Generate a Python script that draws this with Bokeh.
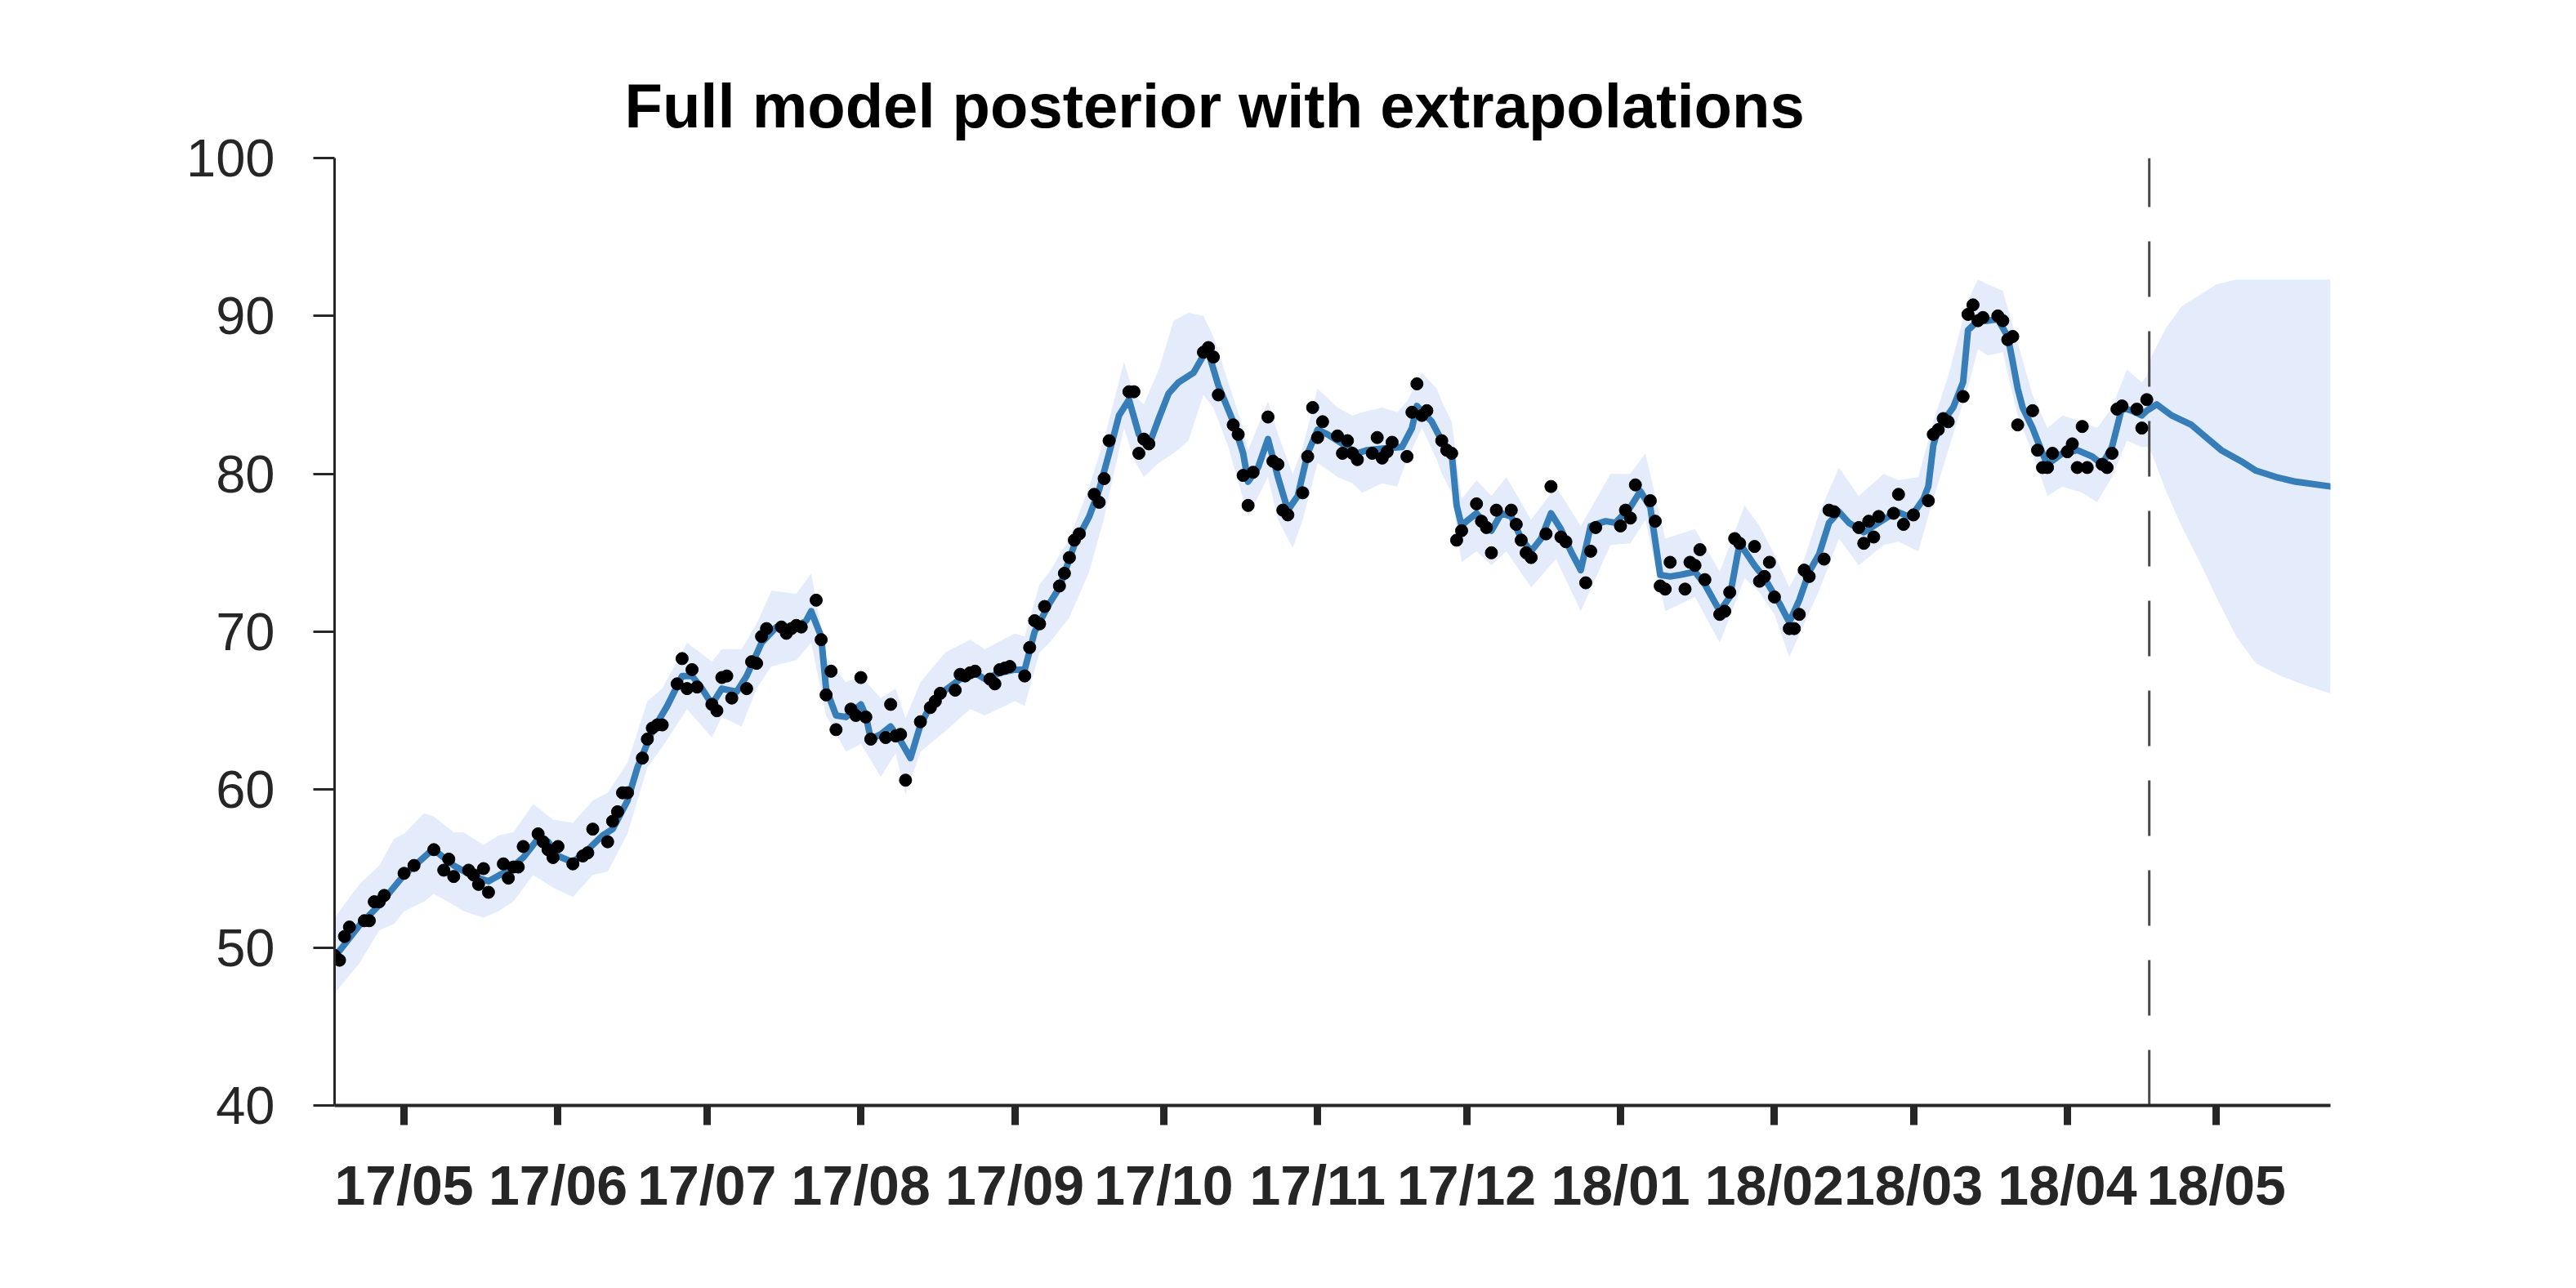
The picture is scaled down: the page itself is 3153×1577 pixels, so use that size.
import pandas as pd
from bokeh.plotting import figure
from bokeh.models import FixedTicker, Range1d, DatetimeTickFormatter
from bokeh.embed import file_html
from bokeh.resources import INLINE

# ---------------- data ----------------
title_text = "Full model posterior with extrapolations"

obs_dates = [
    "2017-04-17", "2017-04-18", "2017-04-19", "2017-04-20", "2017-04-23", "2017-04-24", "2017-04-25",
    "2017-04-26", "2017-04-27", "2017-05-01", "2017-05-03", "2017-05-07", "2017-05-09", "2017-05-10",
    "2017-05-11", "2017-05-14", "2017-05-15", "2017-05-16", "2017-05-17", "2017-05-18", "2017-05-21",
    "2017-05-22", "2017-05-23", "2017-05-24", "2017-05-25", "2017-05-28", "2017-05-29", "2017-05-30",
    "2017-05-31", "2017-06-01", "2017-06-04", "2017-06-06", "2017-06-07", "2017-06-08", "2017-06-11",
    "2017-06-12", "2017-06-13", "2017-06-14", "2017-06-15", "2017-06-18", "2017-06-19", "2017-06-20",
    "2017-06-21", "2017-06-22", "2017-06-25", "2017-06-26", "2017-06-27", "2017-06-28", "2017-06-29",
    "2017-07-02", "2017-07-03", "2017-07-04", "2017-07-05", "2017-07-06", "2017-07-09", "2017-07-10",
    "2017-07-11", "2017-07-12", "2017-07-13", "2017-07-16", "2017-07-17", "2017-07-18", "2017-07-19",
    "2017-07-20", "2017-07-23", "2017-07-24", "2017-07-25", "2017-07-26", "2017-07-27", "2017-07-30",
    "2017-07-31", "2017-08-01", "2017-08-02", "2017-08-03", "2017-08-06", "2017-08-07", "2017-08-08",
    "2017-08-09", "2017-08-10", "2017-08-13", "2017-08-15", "2017-08-16", "2017-08-17", "2017-08-20",
    "2017-08-21", "2017-08-22", "2017-08-23", "2017-08-24", "2017-08-27", "2017-08-28", "2017-08-29",
    "2017-08-30", "2017-08-31", "2017-09-03", "2017-09-04", "2017-09-05", "2017-09-06", "2017-09-07",
    "2017-09-10", "2017-09-11", "2017-09-12", "2017-09-13", "2017-09-14", "2017-09-17", "2017-09-18",
    "2017-09-19", "2017-09-20", "2017-09-24", "2017-09-25", "2017-09-26", "2017-09-27", "2017-09-28",
    "2017-10-09", "2017-10-10", "2017-10-11", "2017-10-12", "2017-10-15", "2017-10-16", "2017-10-17",
    "2017-10-18", "2017-10-19", "2017-10-22", "2017-10-23", "2017-10-24", "2017-10-25", "2017-10-26",
    "2017-10-29", "2017-10-30", "2017-10-31", "2017-11-01", "2017-11-02", "2017-11-05", "2017-11-06",
    "2017-11-07", "2017-11-08", "2017-11-09", "2017-11-12", "2017-11-13", "2017-11-14", "2017-11-15",
    "2017-11-16", "2017-11-19", "2017-11-20", "2017-11-21", "2017-11-22", "2017-11-23", "2017-11-26",
    "2017-11-27", "2017-11-28", "2017-11-29", "2017-11-30", "2017-12-03", "2017-12-04", "2017-12-05",
    "2017-12-06", "2017-12-07", "2017-12-10", "2017-12-11", "2017-12-12", "2017-12-13", "2017-12-14",
    "2017-12-17", "2017-12-18", "2017-12-20", "2017-12-21", "2017-12-25", "2017-12-26", "2017-12-27",
    "2018-01-01", "2018-01-02", "2018-01-03", "2018-01-04", "2018-01-07", "2018-01-08", "2018-01-09",
    "2018-01-10", "2018-01-11", "2018-01-14", "2018-01-15", "2018-01-16", "2018-01-17", "2018-01-18",
    "2018-01-21", "2018-01-22", "2018-01-23", "2018-01-24", "2018-01-25", "2018-01-28", "2018-01-29",
    "2018-01-30", "2018-01-31", "2018-02-01", "2018-02-04", "2018-02-05", "2018-02-06", "2018-02-07",
    "2018-02-08", "2018-02-11", "2018-02-12", "2018-02-13", "2018-02-18", "2018-02-19", "2018-02-20",
    "2018-02-21", "2018-02-22", "2018-02-25", "2018-02-26", "2018-02-27", "2018-03-01", "2018-03-04",
    "2018-03-05", "2018-03-06", "2018-03-07", "2018-03-08", "2018-03-11", "2018-03-12", "2018-03-13",
    "2018-03-14", "2018-03-15", "2018-03-18", "2018-03-19", "2018-03-20", "2018-03-21", "2018-03-22",
    "2018-03-25", "2018-03-26", "2018-03-27", "2018-03-28", "2018-03-29", "2018-04-01", "2018-04-02",
    "2018-04-03", "2018-04-04", "2018-04-05", "2018-04-08", "2018-04-09", "2018-04-10", "2018-04-11",
    "2018-04-12", "2018-04-15", "2018-04-16", "2018-04-17",
]
obs_values = [
    49.5, 49.2, 50.7, 51.3, 51.7, 51.7, 52.9,
    52.9, 53.3, 54.7, 55.2, 56.2, 54.9, 55.6,
    54.5, 54.9, 54.6, 54.0, 55.0, 53.5, 55.3,
    54.4, 55.1, 55.1, 56.4, 57.2, 56.7, 56.2,
    55.7, 56.4, 55.3, 55.8, 56.0, 57.5, 56.7,
    58.0, 58.6, 59.8, 59.8, 62.0, 63.2, 63.9,
    64.1, 64.1, 66.7, 68.3, 66.4, 67.6, 66.5,
    65.4, 65.0, 67.1, 67.2, 65.8, 66.4, 68.1,
    68.0, 69.7, 70.2, 70.3, 69.9, 70.2, 70.4,
    70.3, 72.0, 69.5, 66.0, 67.5, 63.8, 65.1,
    64.7, 67.1, 64.6, 63.2, 63.3, 65.4, 63.4,
    63.5, 60.6, 64.3, 65.2, 65.6, 66.1, 66.3,
    67.3, 67.2, 67.4, 67.5, 67.0, 66.7, 67.6,
    67.7, 67.8, 67.2, 69.0, 70.7, 70.5, 71.6,
    72.9, 73.7, 74.7, 75.8, 76.2, 78.7, 78.2,
    79.7, 82.1, 85.2, 85.2, 81.3, 82.2, 81.9,
    87.7, 88.0, 87.4, 85.0, 83.1, 82.5, 79.9,
    78.0, 80.1, 83.6, 80.8, 80.6, 77.7, 77.4,
    78.8, 81.1, 84.2, 82.3, 83.3, 82.4, 81.3,
    82.1, 81.3, 80.9, 81.3, 82.3, 81.0, 81.4,
    82.0, 81.1, 83.9, 85.7, 83.7, 84.0, 82.1,
    81.5, 81.3, 75.8, 76.4, 78.1, 77.0, 76.6,
    75.0, 77.7, 77.7, 76.8, 75.8, 75.0, 74.7,
    76.2, 79.2, 76.0, 75.7, 73.1, 75.1, 76.6,
    76.7, 77.7, 77.2, 79.3, 78.3, 77.0, 72.9,
    72.7, 74.4, 72.7, 74.4, 74.2, 75.2, 73.3,
    71.1, 71.3, 72.5, 75.9, 75.6, 75.4, 73.2,
    73.5, 74.4, 72.2, 70.2, 70.2, 71.1, 73.9,
    73.5, 74.6, 77.7, 77.6, 76.6, 75.6, 77.0,
    76.0, 77.3, 77.5, 78.7, 76.8, 77.4, 78.3,
    82.5, 82.8, 83.5, 83.3, 84.9, 90.1, 90.7,
    89.7, 89.9, 90.0, 89.7, 88.5, 88.7, 83.1,
    84.0, 81.5, 80.4, 80.4, 81.3, 81.4, 81.9,
    80.4, 83.0, 80.4, 80.6, 80.4, 81.3, 84.1,
    84.3, 84.1, 82.9, 84.7,
]

mean_dates = [
    "2017-04-17", "2017-04-22", "2017-04-26", "2017-05-01", "2017-05-06", "2017-05-07", "2017-05-11",
    "2017-05-15", "2017-05-18", "2017-05-22", "2017-05-25", "2017-05-28", "2017-05-30", "2017-06-01",
    "2017-06-04", "2017-06-07", "2017-06-10", "2017-06-12", "2017-06-15", "2017-06-17", "2017-06-20",
    "2017-06-23", "2017-06-26", "2017-06-28", "2017-06-30", "2017-07-02", "2017-07-04", "2017-07-07",
    "2017-07-09", "2017-07-12", "2017-07-15", "2017-07-19", "2017-07-21", "2017-07-22", "2017-07-24",
    "2017-07-25", "2017-07-27", "2017-07-29", "2017-08-01", "2017-08-02", "2017-08-03", "2017-08-05",
    "2017-08-07", "2017-08-09", "2017-08-11", "2017-08-13", "2017-08-15", "2017-08-18", "2017-08-21",
    "2017-08-24", "2017-08-26", "2017-08-29", "2017-09-01", "2017-09-03", "2017-09-05", "2017-09-08",
    "2017-09-10", "2017-09-13", "2017-09-16", "2017-09-18", "2017-09-20", "2017-09-22", "2017-09-24",
    "2017-09-26", "2017-09-28", "2017-09-30", "2017-10-02", "2017-10-04", "2017-10-07", "2017-10-09",
    "2017-10-10", "2017-10-12", "2017-10-15", "2017-10-17", "2017-10-18", "2017-10-20", "2017-10-22",
    "2017-10-24", "2017-10-26", "2017-10-28", "2017-10-30", "2017-11-01", "2017-11-03", "2017-11-06",
    "2017-11-09", "2017-11-11", "2017-11-14", "2017-11-18", "2017-11-20", "2017-11-21", "2017-11-24",
    "2017-11-26", "2017-11-28", "2017-11-29", "2017-11-30", "2017-12-01", "2017-12-03", "2017-12-06",
    "2017-12-08", "2017-12-10", "2017-12-12", "2017-12-14", "2017-12-16", "2017-12-18", "2017-12-20",
    "2017-12-22", "2017-12-24", "2017-12-26", "2017-12-29", "2017-12-31", "2018-01-03", "2018-01-05",
    "2018-01-07", "2018-01-09", "2018-01-11", "2018-01-13", "2018-01-16", "2018-01-18", "2018-01-21",
    "2018-01-23", "2018-01-25", "2018-01-28", "2018-01-30", "2018-02-02", "2018-02-04", "2018-02-06",
    "2018-02-08", "2018-02-10", "2018-02-12", "2018-02-14", "2018-02-16", "2018-02-19", "2018-02-21",
    "2018-02-24", "2018-02-25", "2018-02-28", "2018-03-01", "2018-03-03", "2018-03-04", "2018-03-05",
    "2018-03-06", "2018-03-09", "2018-03-11", "2018-03-12", "2018-03-14", "2018-03-16", "2018-03-18",
    "2018-03-20", "2018-03-21", "2018-03-22", "2018-03-23", "2018-03-25", "2018-03-27", "2018-03-28",
    "2018-03-31", "2018-04-03", "2018-04-06", "2018-04-08", "2018-04-10", "2018-04-12", "2018-04-14",
    "2018-04-16", "2018-04-17", "2018-04-19", "2018-04-22", "2018-04-26", "2018-04-29", "2018-05-02",
    "2018-05-06", "2018-05-09", "2018-05-13", "2018-05-17", "2018-05-24",
]
mean_values = [
    49.4, 51.4, 52.7, 54.6, 56.0, 56.2, 55.2,
    54.5, 54.2, 54.9, 55.7, 56.9, 56.7, 55.8,
    55.4, 56.2, 57.1, 57.5, 59.3, 61.4, 63.7,
    65.3, 67.2, 67.2, 66.4, 65.4, 66.4, 66.2,
    67.2, 69.3, 70.3, 70.3, 70.7, 71.3, 69.7,
    66.4, 64.7, 64.6, 65.4, 64.7, 63.2, 63.5,
    64.0, 63.1, 62.0, 64.1, 65.3, 66.3, 67.0,
    67.4, 67.0, 67.4, 67.6, 67.6, 70.0, 71.8,
    72.8, 75.5, 77.3, 79.0, 81.3, 83.7, 84.7,
    82.5, 81.8, 83.5, 85.1, 85.8, 86.4, 87.5,
    87.7, 85.6, 83.3, 81.3, 79.5, 80.4, 82.2,
    79.8, 77.7, 78.6, 81.3, 82.8, 82.5, 81.9,
    81.3, 81.5, 81.6, 81.7, 82.9, 84.3, 83.3,
    82.1, 81.3, 78.0, 76.7, 77.0, 77.5, 76.4,
    77.5, 77.3, 75.9, 75.1, 75.9, 77.5, 76.5,
    75.1, 73.9, 76.7, 77.0, 76.9, 77.9, 78.9,
    77.9, 73.6, 73.5, 73.6, 73.8, 73.0, 71.3,
    72.2, 75.6, 74.2, 73.4, 71.8, 70.6, 72.0,
    73.8, 74.9, 76.9, 77.6, 76.9, 76.3, 76.7,
    77.3, 77.7, 77.3, 77.5, 78.4, 79.2, 81.8,
    82.9, 84.2, 85.8, 89.1, 89.7, 89.7, 89.8,
    88.7, 87.1, 85.4, 84.2, 82.9, 81.3, 80.6,
    81.3, 81.5, 81.1, 80.6, 81.7, 84.2, 84.0,
    83.7, 84.0, 84.4, 83.7, 83.1, 82.3, 81.5,
    80.8, 80.2, 79.8, 79.5, 79.2,
]

band_dates = [
    "2017-04-17", "2017-04-22", "2017-04-26", "2017-04-29", "2017-05-01", "2017-05-05", "2017-05-07",
    "2017-05-11", "2017-05-13", "2017-05-17", "2017-05-20", "2017-05-23", "2017-05-27", "2017-05-31",
    "2017-06-04", "2017-06-08", "2017-06-11", "2017-06-15", "2017-06-19", "2017-06-22", "2017-06-27",
    "2017-07-02", "2017-07-04", "2017-07-08", "2017-07-11", "2017-07-14", "2017-07-19", "2017-07-22",
    "2017-07-25", "2017-07-29", "2017-08-01", "2017-08-05", "2017-08-08", "2017-08-10", "2017-08-13",
    "2017-08-18", "2017-08-23", "2017-08-26", "2017-09-01", "2017-09-03", "2017-09-06", "2017-09-08",
    "2017-09-12", "2017-09-16", "2017-09-19", "2017-09-23", "2017-09-25", "2017-09-27", "2017-09-30",
    "2017-10-03", "2017-10-06", "2017-10-09", "2017-10-11", "2017-10-14", "2017-10-17", "2017-10-18",
    "2017-10-22", "2017-10-24", "2017-10-27", "2017-10-29", "2017-11-01", "2017-11-05", "2017-11-08",
    "2017-11-10", "2017-11-14", "2017-11-17", "2017-11-19", "2017-11-22", "2017-11-25", "2017-11-26",
    "2017-11-28", "2017-11-30", "2017-12-03", "2017-12-06", "2017-12-09", "2017-12-14", "2017-12-19",
    "2017-12-24", "2017-12-30", "2018-01-03", "2018-01-06", "2018-01-10", "2018-01-16", "2018-01-21",
    "2018-01-26", "2018-01-29", "2018-02-01", "2018-02-04", "2018-02-07", "2018-02-10", "2018-02-14",
    "2018-02-18", "2018-02-23", "2018-02-26", "2018-03-02", "2018-03-05", "2018-03-08", "2018-03-12",
    "2018-03-14", "2018-03-16", "2018-03-19", "2018-03-22", "2018-03-25", "2018-03-28", "2018-03-31",
    "2018-04-04", "2018-04-07", "2018-04-10", "2018-04-13", "2018-04-16", "2018-04-17", "2018-04-18",
    "2018-04-21", "2018-04-24", "2018-04-28", "2018-05-01", "2018-05-05", "2018-05-09", "2018-05-14",
    "2018-05-19", "2018-05-24",
]
band_lo = [
    47.1, 49.0, 51.1, 51.5, 52.3, 52.9, 53.4,
    52.7, 52.3, 51.9, 52.3, 52.9, 54.6, 53.8,
    53.2, 54.6, 54.8, 57.2, 61.4, 62.7, 65.1,
    63.3, 64.6, 64.0, 66.4, 67.8, 68.2, 69.3,
    64.7, 62.4, 62.9, 60.8, 62.3, 59.7, 62.4,
    63.7, 65.1, 64.7, 65.6, 65.3, 68.7, 69.3,
    70.9, 73.8, 77.2, 82.9, 80.9, 79.8, 80.7,
    81.3, 82.1, 85.0, 84.2, 81.7, 78.4, 77.3,
    79.8, 77.1, 75.3, 77.1, 80.7, 79.8, 79.4,
    78.8, 79.4, 79.2, 80.9, 82.9, 80.9, 80.0,
    78.8, 74.4, 75.1, 74.2, 75.1, 72.8, 74.6,
    71.3, 75.5, 75.6, 77.1, 71.3, 72.2, 69.3,
    73.4, 72.5, 71.1, 68.4, 70.5, 72.6, 75.9,
    74.2, 75.5, 75.7, 75.1, 78.4, 81.5, 85.5,
    87.9, 87.5, 87.7, 83.7, 81.3, 78.6, 79.2,
    78.8, 78.2, 79.8, 82.1, 81.7, 81.7, 81.3,
    78.8, 76.7, 74.2, 72.2, 69.7, 68.0, 67.2,
    66.6, 66.1,
]
band_hi = [
    51.9, 54.0, 55.2, 56.9, 57.2, 58.5, 58.3,
    57.3, 57.3, 56.5, 57.1, 57.3, 59.1, 58.1,
    57.9, 59.3, 59.8, 61.7, 65.6, 66.4, 69.3,
    68.1, 68.9, 68.9, 70.5, 72.6, 72.4, 73.7,
    68.4, 66.8, 67.2, 65.8, 66.4, 64.5, 66.8,
    68.7, 69.5, 68.9, 69.9, 69.7, 73.0, 73.8,
    75.9, 79.2, 82.2, 87.1, 85.0, 84.4, 86.6,
    89.7, 90.2, 90.0, 88.7, 85.8, 82.9, 81.5,
    84.6, 82.5, 80.0, 81.7, 85.4, 84.2, 83.7,
    83.9, 84.2, 83.9, 84.6, 86.4, 85.4, 84.6,
    83.3, 78.4, 79.6, 78.6, 79.8, 77.1, 79.2,
    76.7, 80.0, 80.0, 81.3, 75.9, 76.5, 73.8,
    78.0, 76.7, 74.9, 72.8, 74.6, 77.5, 80.4,
    78.6, 80.0, 79.6, 79.8, 83.3, 86.2, 91.0,
    92.3, 92.0, 91.6, 88.3, 85.0, 82.9, 83.7,
    83.3, 82.9, 84.2, 86.6, 85.8, 86.2, 87.5,
    89.3, 90.6, 91.4, 92.0, 92.3, 92.3, 92.3,
    92.3, 92.3,
]

forecast_start = "2018-04-17 12:00"
x_start, x_end = "2017-04-17", "2018-05-24"
y_start, y_end = 40, 100
y_ticks = [40, 50, 60, 70, 80, 90, 100]
month_ticks = ["2017-05-01", "2017-06-01", "2017-07-01", "2017-08-01", "2017-09-01", "2017-10-01",
               "2017-11-01", "2017-12-01", "2018-01-01", "2018-02-01", "2018-03-01", "2018-04-01",
               "2018-05-01"]
tick_labels = ["17/05", "17/06", "17/07", "17/08", "17/09", "17/10", "17/11", "17/12",
               "18/01", "18/02", "18/03", "18/04", "18/05"]

# ---------------- plot ----------------
FONT = "Liberation Sans"
AXIS_COLOR = "#262626"
LINE_COLOR = "#377EB8"
BAND_COLOR = "#E4ECFC"

def ms(d):
    return int(pd.Timestamp(d).value // 10**6)

p = figure(
    width=3145, height=1561,
    x_axis_type="datetime",
    x_range=Range1d(start=pd.Timestamp(x_start), end=pd.Timestamp(x_end)),
    y_range=Range1d(start=y_start, end=y_end),
    output_backend="svg", toolbar_location=None,
    min_border_left=409, min_border_right=293, min_border_top=193, min_border_bottom=208,
    background_fill_color="white", border_fill_color="white",
)
p.outline_line_color = None
p.xgrid.visible = False
p.ygrid.visible = False

p.title.text = title_text
p.title.text_font = FONT
p.title.text_font_size = "76px"
p.title.text_font_style = "bold"
p.title.text_color = "black"
p.title.align = "left"
p.title.offset = 355
p.title.standoff = 43

bd = pd.to_datetime(band_dates)
p.varea(x=bd, y1=band_lo, y2=band_hi, fill_color=BAND_COLOR, fill_alpha=1.0)

fs = pd.Timestamp(forecast_start)
p.line(x=[fs, fs], y=[y_start, y_end], line_color="#4a4a4a", line_width=3, line_dash="68 42")

p.line(x=pd.to_datetime(mean_dates), y=mean_values, line_color=LINE_COLOR, line_width=8,
       line_join="round", line_cap="round")

p.scatter(x=pd.to_datetime(obs_dates), y=obs_values, size=15, fill_color="black", line_color="black")

xa = p.xaxis[0]
xa.ticker = FixedTicker(ticks=[ms(d) for d in month_ticks])
xa.formatter = DatetimeTickFormatter(days="%y/%m", months="%y/%m", years="%y/%m")
xa.major_label_overrides = {ms(d): lab for d, lab in zip(month_ticks, tick_labels)}
xa.axis_line_width = 4
xa.axis_line_color = AXIS_COLOR
xa.major_tick_line_width = 9
xa.major_tick_line_color = AXIS_COLOR
xa.major_tick_out = 24
xa.major_tick_in = 0
xa.minor_tick_out = 0
xa.minor_tick_in = 0
xa.major_label_text_font = FONT
xa.major_label_text_font_size = "68px"
xa.major_label_text_font_style = "bold"
xa.major_label_text_color = AXIS_COLOR
xa.major_label_standoff = 35

ya = p.yaxis[0]
ya.ticker = FixedTicker(ticks=y_ticks)
ya.axis_line_width = 3
ya.axis_line_color = AXIS_COLOR
ya.major_tick_line_width = 3
ya.major_tick_line_color = AXIS_COLOR
ya.major_tick_out = 26
ya.major_tick_in = 0
ya.minor_tick_out = 0
ya.minor_tick_in = 0
ya.major_label_text_font = FONT
ya.major_label_text_font_size = "65px"
ya.major_label_text_color = AXIS_COLOR
ya.major_label_standoff = 47

open("out.html", "w").write(file_html(p, INLINE))
